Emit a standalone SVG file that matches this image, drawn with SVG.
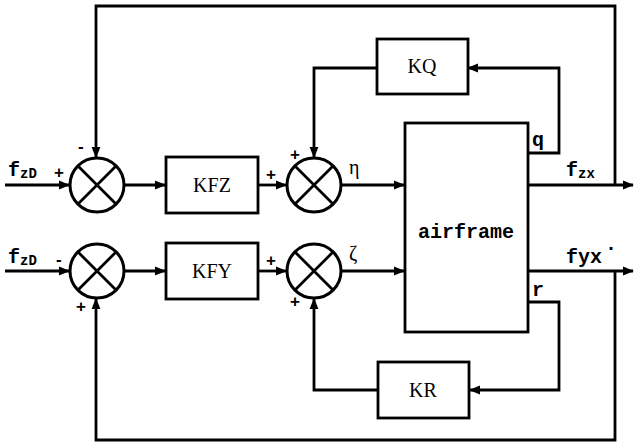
<svg xmlns="http://www.w3.org/2000/svg" width="635" height="448" viewBox="0 0 635 448">
<style>
.ln{fill:none;stroke:#000;stroke-width:2.8;stroke-linejoin:miter}
.bx{fill:#fff;stroke:#000;stroke-width:2.8}
.sj{fill:#fff;stroke:#000;stroke-width:3}
.x{stroke:#000;stroke-width:2.8}
.ser{font-family:"Liberation Serif",serif;font-size:20px;fill:#000}
.mono{font-family:"Liberation Mono",monospace;font-size:20px;fill:#000;font-weight:bold}
.sub{font-family:"Liberation Mono",monospace;font-size:14px;font-weight:bold}
.sg{font-family:"Liberation Sans",sans-serif;font-size:17px;font-weight:bold;fill:#000}
</style>
<defs>
<marker id="ah" viewBox="0 0 10 10" refX="9" refY="5" markerWidth="4" markerHeight="4" orient="auto" markerUnits="strokeWidth">
<path d="M0,1 L10,5 L0,9 z" fill="#000"/>
</marker>
</defs>
<g id="connectors">
<path class="ln" d="M5,185 H69" marker-end="url(#ah)"/>
<path class="ln" d="M5,271 H69" marker-end="url(#ah)"/>
<path class="ln" d="M124,185 H165" marker-end="url(#ah)"/>
<path class="ln" d="M124,271 H165" marker-end="url(#ah)"/>
<path class="ln" d="M258,185 H286" marker-end="url(#ah)"/>
<path class="ln" d="M258,271 H286" marker-end="url(#ah)"/>
<path class="ln" d="M341,185 H404" marker-end="url(#ah)"/>
<path class="ln" d="M341,271 H404" marker-end="url(#ah)"/>
<path class="ln" d="M528,185 H633" marker-end="url(#ah)"/>
<path class="ln" d="M528,271 H633" marker-end="url(#ah)"/>
<path class="ln" d="M528,153 H559 V68 H468" marker-end="url(#ah)"/>
<path class="ln" d="M528,302 H559 V390 H470" marker-end="url(#ah)"/>
<path class="ln" d="M377,68 H314 V157" marker-end="url(#ah)"/>
<path class="ln" d="M378,390 H314 V299" marker-end="url(#ah)"/>
<path class="ln" d="M615,185 V6 H96 V157" marker-end="url(#ah)"/>
<path class="ln" d="M615,271 V440 H96 V299" marker-end="url(#ah)"/>
</g>
<g id="sum1">
<circle class="sj" cx="97" cy="185" r="27"/>
<path class="x" d="M78,166 L116,204 M116,166 L78,204"/>
</g>
<g id="sum2">
<circle class="sj" cx="97" cy="271" r="27"/>
<path class="x" d="M78,252 L116,290 M116,252 L78,290"/>
</g>
<g id="sum3">
<circle class="sj" cx="314" cy="185" r="27"/>
<path class="x" d="M295,166 L333,204 M333,166 L295,204"/>
</g>
<g id="sum4">
<circle class="sj" cx="314" cy="271" r="27"/>
<path class="x" d="M295,252 L333,290 M333,252 L295,290"/>
</g>
<g id="KFZ">
<rect class="bx" x="166" y="157" width="92" height="56"/>
<text class="ser" x="212" y="192" text-anchor="middle">KFZ</text>
</g>
<g id="KFY">
<rect class="bx" x="166" y="243" width="92" height="56"/>
<text class="ser" x="212" y="278" text-anchor="middle">KFY</text>
</g>
<g id="KQ">
<rect class="bx" x="377" y="39" width="91" height="55"/>
<text class="ser" x="422" y="73" text-anchor="middle">KQ</text>
</g>
<g id="KR">
<rect class="bx" x="378" y="362" width="91" height="56"/>
<text class="ser" x="423" y="397" text-anchor="middle">KR</text>
</g>
<g id="airframe">
<rect class="bx" x="405" y="123" width="123" height="209"/>
<text class="mono" x="466" y="238" text-anchor="middle">airframe</text>
</g>
<g id="labels">
<text class="mono" x="8" y="176" font-size="22">f<tspan class="sub" dy="2">zD</tspan></text>
<text class="sg" x="54" y="178">+</text>
<text class="mono" x="8" y="263" font-size="22">f<tspan class="sub" dy="2">zD</tspan></text>
<text class="sg" x="56" y="265">-</text>
<text class="sg" x="78" y="152">-</text>
<text class="sg" x="76" y="312">+</text>
<text class="sg" x="266" y="180">+</text>
<text class="sg" x="266" y="266">+</text>
<text class="sg" x="290" y="160">+</text>
<text class="sg" x="290" y="307">+</text>
<text class="ser" x="349" y="174" font-size="18">η</text>
<text class="ser" x="349" y="260" font-size="18">ζ</text>
<text class="mono" x="532" y="146">q</text>
<text class="mono" x="532" y="296">r</text>
<text class="mono" x="566" y="176" font-size="22">f<tspan class="sub" dy="2">zx</tspan></text>
<text class="mono" x="566" y="263">fyx</text>
<text class="mono" x="605" y="250" font-size="10">.</text>
</g>
</svg>
